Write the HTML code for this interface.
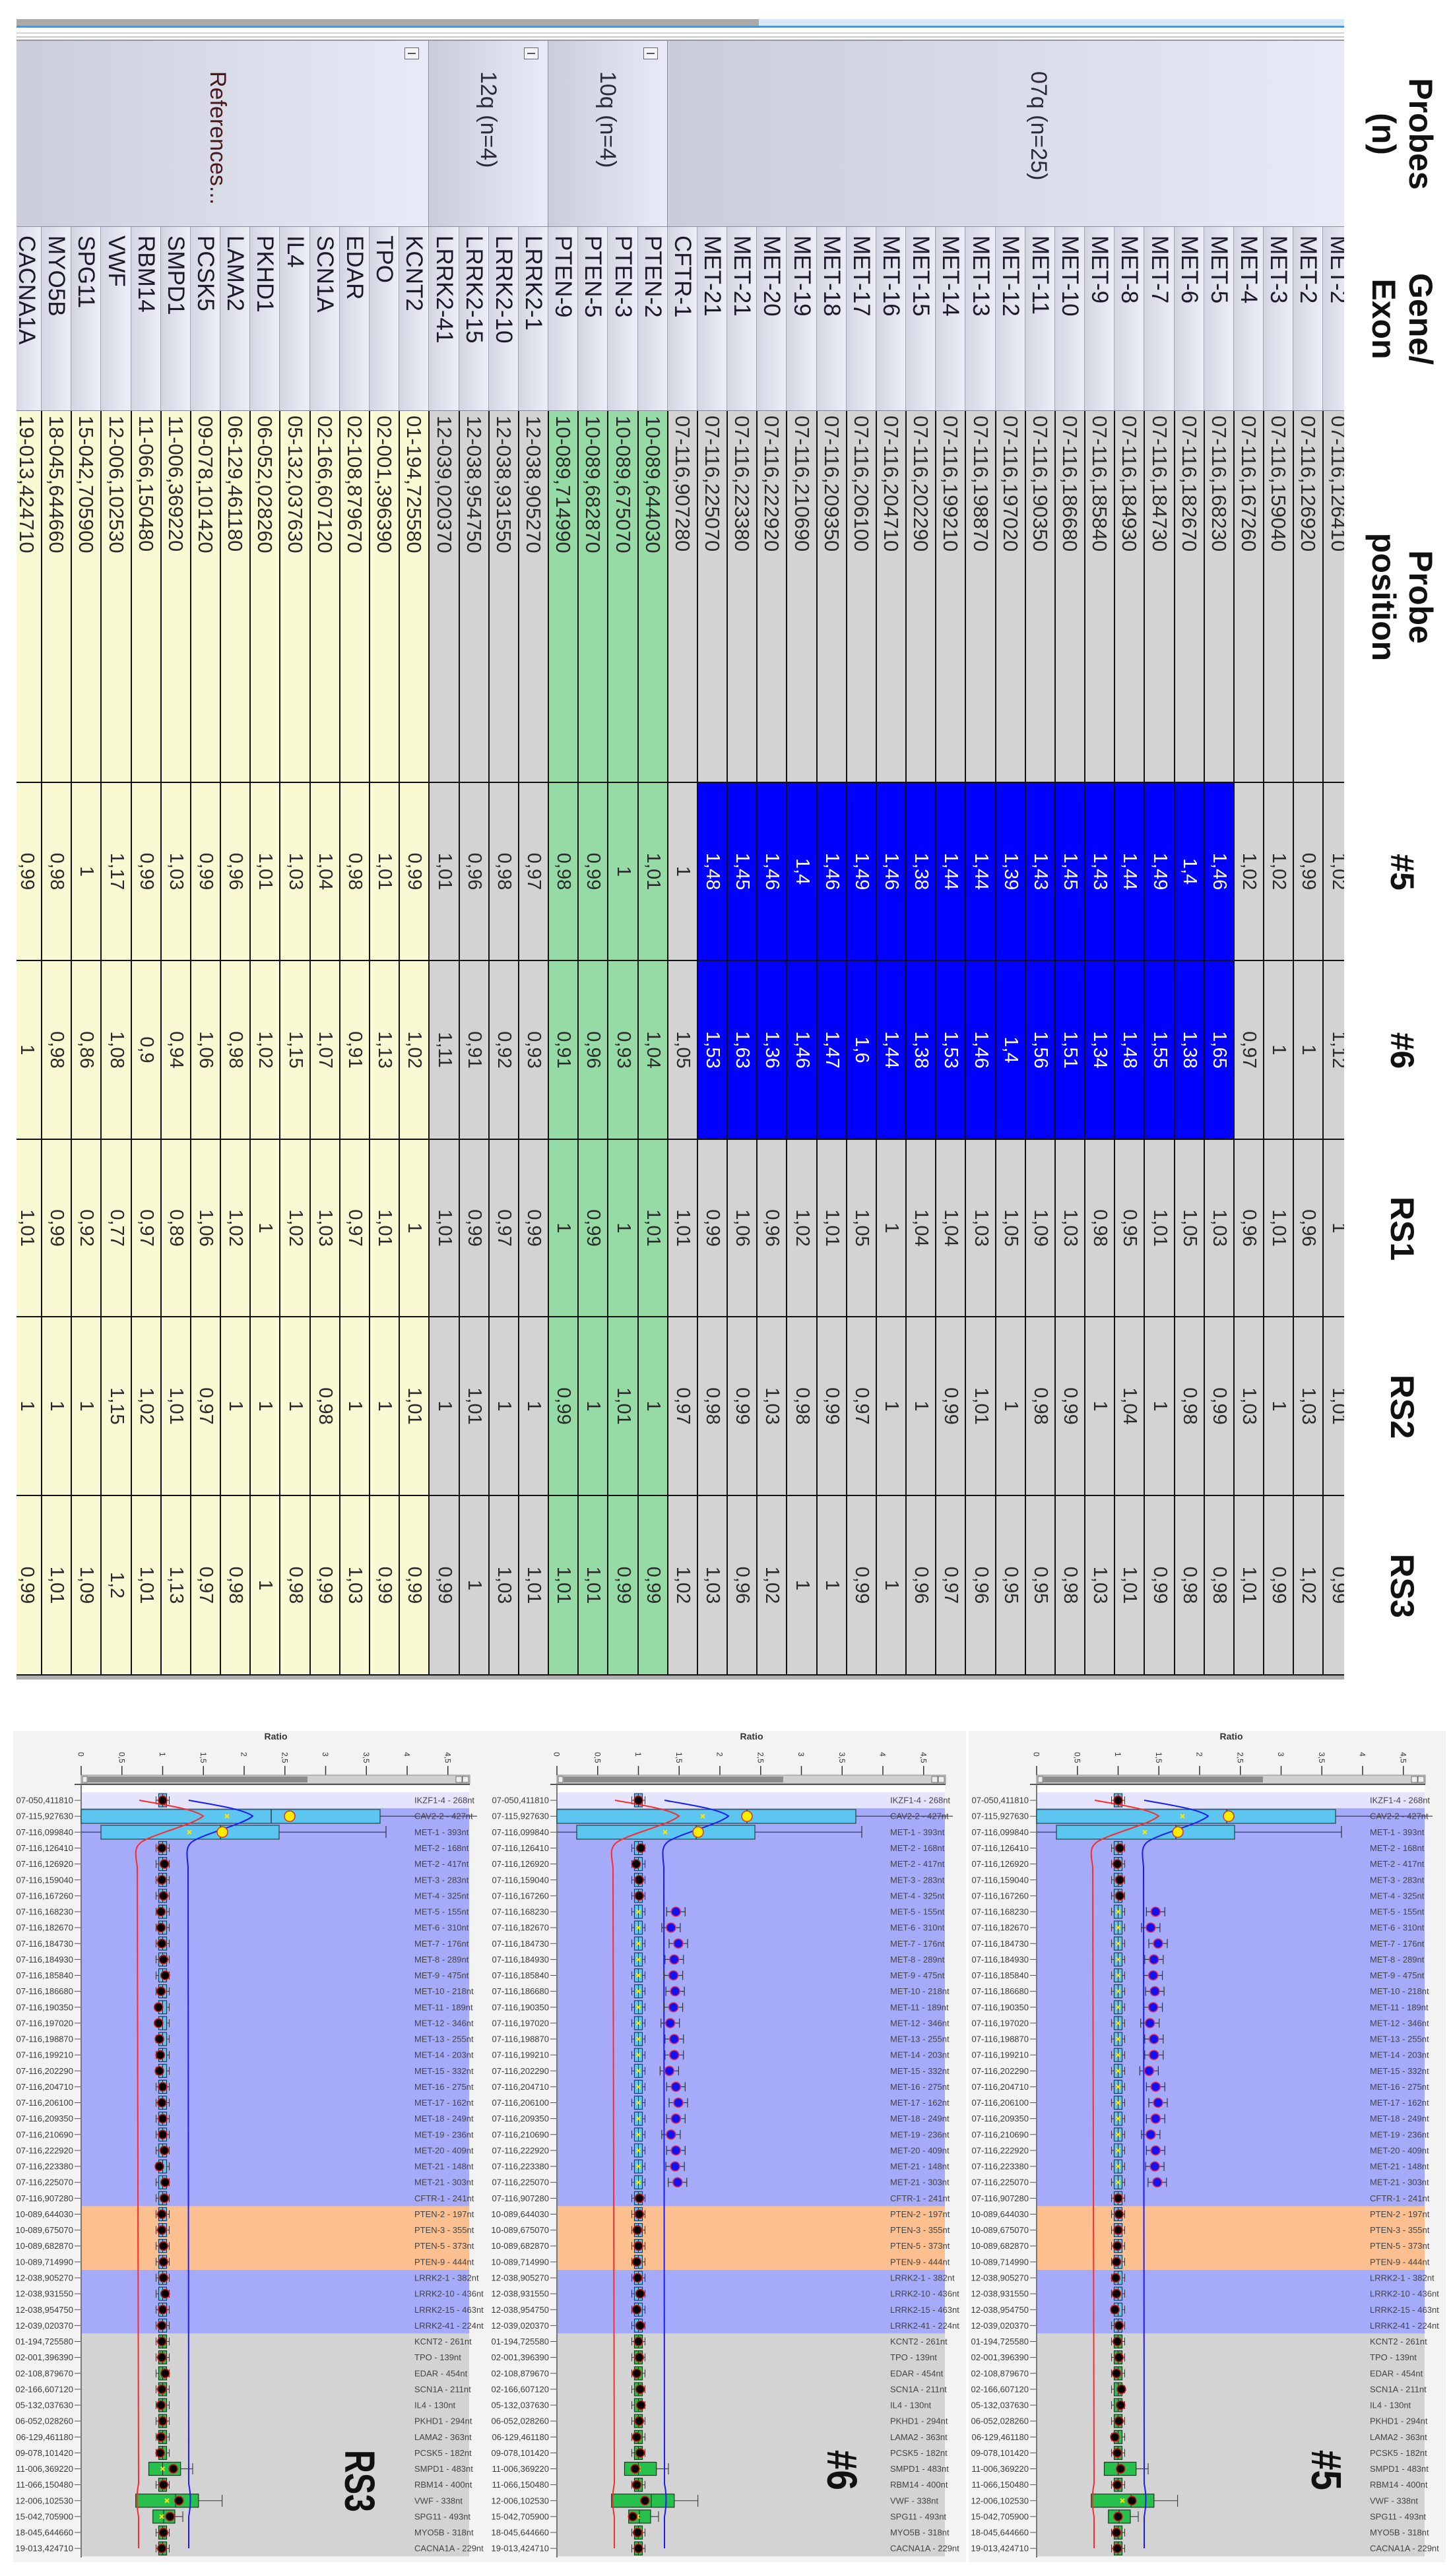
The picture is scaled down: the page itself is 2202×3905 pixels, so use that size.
<!DOCTYPE html>
<html><head><meta charset="utf-8">
<style>
html,body{margin:0;padding:0;background:#fff}
body{width:2202px;height:3905px;position:relative;overflow:hidden;font-family:"Liberation Sans",Arial,sans-serif}
.abs{position:absolute}
#T{position:absolute;left:0;top:0;width:2560px;height:2202px;transform-origin:0 0;transform:translate(2202px,0) rotate(90deg)}
.hl{position:absolute;top:10px;height:134px;display:flex;align-items:center;justify-content:center;text-align:center;font:bold 50px/56px "Liberation Sans",sans-serif;color:#111}
#C{position:absolute;left:0;top:165px;width:2560px;height:2012px;overflow:hidden}
.gp{position:absolute;left:62px;width:282px;box-sizing:border-box;background:linear-gradient(#e8ebf7,#c9ccd9);border-bottom:1px solid #8a8f9e;border-right:1px solid #8a8f9e;display:flex;align-items:center;font-size:34px;color:#2a2a3a;padding-left:46px}
.ic{position:absolute;left:10px;top:14px;width:16px;height:20px;border:1.5px solid #666;background:#f4f5fa}
.ic:after{content:"";position:absolute;left:7px;top:4px;width:2px;height:12px;background:#555}
.rw{position:absolute;left:344px;top:-12.68px;width:2196px}
.r{display:flex;height:45.18px}
.r>i{font-style:normal;box-sizing:border-box;height:45.18px;line-height:43px;border-bottom:2px solid #111;border-right:2px solid #111;text-align:center;font-size:29px;color:#2a2a2a;white-space:nowrap;overflow:hidden}
.r>i:nth-child(1){width:279px;text-align:left;padding-left:13px;font-size:35px;background:linear-gradient(#eceef7,#d3d6e2);border-bottom:1px solid #9da3b3;border-right:1px solid #7f8595;color:#1a1a2a}
.r>i:nth-child(2){width:564px;text-align:left;padding-left:7px;font-size:31px}
.r>i:nth-child(3){width:270px}.r>i:nth-child(4){width:271px}.r>i:nth-child(5){width:269px}.r>i:nth-child(6){width:271px}.r>i:nth-child(7){width:272px}
.a>i,.c>i{background:#d3d3d3}
.b>i{background:#96dba6}
.d>i{background:#f9f9d3}
.r>i.x{background:#0000ff;color:#fff}
.ll{font:13px "Liberation Sans",sans-serif;fill:#3a3a3a;text-anchor:end}
.rl{font:13px "Liberation Sans",sans-serif;fill:#444}
.tk{font:12px "Liberation Sans",sans-serif;fill:#333}
</style></head><body>

<div class="abs" style="left:25px;top:29px;width:1125px;height:10px;background:#a9a9a9"></div>
<div class="abs" style="left:1150px;top:29px;width:887px;height:10px;background:#d7e9f7"></div>
<div class="abs" style="left:25px;top:39px;width:2012px;height:3px;background:#2a9df4"></div>
<div class="abs" style="left:25px;top:49px;width:2012px;height:2px;background:#d2d2d2"></div>
<div class="abs" style="left:25px;top:55px;width:2012px;height:2px;background:#c8c8c8"></div>
<div class="abs" style="left:25px;top:60px;width:2012px;height:2px;background:#999"></div>

<div id="T">
<div class="hl" style="left:62px;width:282px">Probes<br>(n)</div>
<div class="hl" style="left:344px;width:279px">Gene/<br>Exon</div>
<div class="hl" style="left:623px;width:564px">Probe<br>position</div>
<div class="hl" style="left:1187px;width:270px">#5</div>
<div class="hl" style="left:1457px;width:271px">#6</div>
<div class="hl" style="left:1728px;width:269px">RS1</div>
<div class="hl" style="left:1997px;width:271px">RS2</div>
<div class="hl" style="left:2268px;width:272px">RS3</div>

<div id="C">
<div class="gp" style="top:-12.68px;height:1039.14px;padding-bottom:86px">07q (n=25)</div>
<div class="gp" style="top:1026.46px;height:180.72px"><span class="ic"></span>10q (n=4)</div>
<div class="gp" style="top:1207.18px;height:180.72px"><span class="ic"></span>12q (n=4)</div>
<div class="gp" style="top:1387.9px;height:640px;color:#4a1a1a"><span class="ic"></span>References...</div>
<div class="rw">
<div class="r a"><i>MET-2</i><i>07-116,126410</i><i>1,02</i><i>1,12</i><i>1</i><i>1,01</i><i>0,99</i></div>
<div class="r a"><i>MET-2</i><i>07-116,126920</i><i>0,99</i><i>1</i><i>0,96</i><i>1,03</i><i>1,02</i></div>
<div class="r a"><i>MET-3</i><i>07-116,159040</i><i>1,02</i><i>1</i><i>1,01</i><i>1</i><i>0,99</i></div>
<div class="r a"><i>MET-4</i><i>07-116,167260</i><i>1,02</i><i>0,97</i><i>0,96</i><i>1,03</i><i>1,01</i></div>
<div class="r a"><i>MET-5</i><i>07-116,168230</i><i class="x">1,46</i><i class="x">1,65</i><i>1,03</i><i>0,99</i><i>0,98</i></div>
<div class="r a"><i>MET-6</i><i>07-116,182670</i><i class="x">1,4</i><i class="x">1,38</i><i>1,05</i><i>0,98</i><i>0,98</i></div>
<div class="r a"><i>MET-7</i><i>07-116,184730</i><i class="x">1,49</i><i class="x">1,55</i><i>1,01</i><i>1</i><i>0,99</i></div>
<div class="r a"><i>MET-8</i><i>07-116,184930</i><i class="x">1,44</i><i class="x">1,48</i><i>0,95</i><i>1,04</i><i>1,01</i></div>
<div class="r a"><i>MET-9</i><i>07-116,185840</i><i class="x">1,43</i><i class="x">1,34</i><i>0,98</i><i>1</i><i>1,03</i></div>
<div class="r a"><i>MET-10</i><i>07-116,186680</i><i class="x">1,45</i><i class="x">1,51</i><i>1,03</i><i>0,99</i><i>0,98</i></div>
<div class="r a"><i>MET-11</i><i>07-116,190350</i><i class="x">1,43</i><i class="x">1,56</i><i>1,09</i><i>0,98</i><i>0,95</i></div>
<div class="r a"><i>MET-12</i><i>07-116,197020</i><i class="x">1,39</i><i class="x">1,4</i><i>1,05</i><i>1</i><i>0,95</i></div>
<div class="r a"><i>MET-13</i><i>07-116,198870</i><i class="x">1,44</i><i class="x">1,46</i><i>1,03</i><i>1,01</i><i>0,96</i></div>
<div class="r a"><i>MET-14</i><i>07-116,199210</i><i class="x">1,44</i><i class="x">1,53</i><i>1,04</i><i>0,99</i><i>0,97</i></div>
<div class="r a"><i>MET-15</i><i>07-116,202290</i><i class="x">1,38</i><i class="x">1,38</i><i>1,04</i><i>1</i><i>0,96</i></div>
<div class="r a"><i>MET-16</i><i>07-116,204710</i><i class="x">1,46</i><i class="x">1,44</i><i>1</i><i>1</i><i>1</i></div>
<div class="r a"><i>MET-17</i><i>07-116,206100</i><i class="x">1,49</i><i class="x">1,6</i><i>1,05</i><i>0,97</i><i>0,99</i></div>
<div class="r a"><i>MET-18</i><i>07-116,209350</i><i class="x">1,46</i><i class="x">1,47</i><i>1,01</i><i>0,99</i><i>1</i></div>
<div class="r a"><i>MET-19</i><i>07-116,210690</i><i class="x">1,4</i><i class="x">1,46</i><i>1,02</i><i>0,98</i><i>1</i></div>
<div class="r a"><i>MET-20</i><i>07-116,222920</i><i class="x">1,46</i><i class="x">1,36</i><i>0,96</i><i>1,03</i><i>1,02</i></div>
<div class="r a"><i>MET-21</i><i>07-116,223380</i><i class="x">1,45</i><i class="x">1,63</i><i>1,06</i><i>0,99</i><i>0,96</i></div>
<div class="r a"><i>MET-21</i><i>07-116,225070</i><i class="x">1,48</i><i class="x">1,53</i><i>0,99</i><i>0,98</i><i>1,03</i></div>
<div class="r a"><i>CFTR-1</i><i>07-116,907280</i><i>1</i><i>1,05</i><i>1,01</i><i>0,97</i><i>1,02</i></div>
<div class="r b"><i>PTEN-2</i><i>10-089,644030</i><i>1,01</i><i>1,04</i><i>1,01</i><i>1</i><i>0,99</i></div>
<div class="r b"><i>PTEN-3</i><i>10-089,675070</i><i>1</i><i>0,93</i><i>1</i><i>1,01</i><i>0,99</i></div>
<div class="r b"><i>PTEN-5</i><i>10-089,682870</i><i>0,99</i><i>0,96</i><i>0,99</i><i>1</i><i>1,01</i></div>
<div class="r b"><i>PTEN-9</i><i>10-089,714990</i><i>0,98</i><i>0,91</i><i>1</i><i>0,99</i><i>1,01</i></div>
<div class="r c"><i>LRRK2-1</i><i>12-038,905270</i><i>0,97</i><i>0,93</i><i>0,99</i><i>1</i><i>1,01</i></div>
<div class="r c"><i>LRRK2-10</i><i>12-038,931550</i><i>0,98</i><i>0,92</i><i>0,97</i><i>1</i><i>1,03</i></div>
<div class="r c"><i>LRRK2-15</i><i>12-038,954750</i><i>0,96</i><i>0,91</i><i>0,99</i><i>1,01</i><i>1</i></div>
<div class="r c"><i>LRRK2-41</i><i>12-039,020370</i><i>1,01</i><i>1,11</i><i>1,01</i><i>1</i><i>0,99</i></div>
<div class="r d"><i>KCNT2</i><i>01-194,725580</i><i>0,99</i><i>1,02</i><i>1</i><i>1,01</i><i>0,99</i></div>
<div class="r d"><i>TPO</i><i>02-001,396390</i><i>1,01</i><i>1,13</i><i>1,01</i><i>1</i><i>0,99</i></div>
<div class="r d"><i>EDAR</i><i>02-108,879670</i><i>0,98</i><i>0,91</i><i>0,97</i><i>1</i><i>1,03</i></div>
<div class="r d"><i>SCN1A</i><i>02-166,607120</i><i>1,04</i><i>1,07</i><i>1,03</i><i>0,98</i><i>0,99</i></div>
<div class="r d"><i>IL4</i><i>05-132,037630</i><i>1,03</i><i>1,15</i><i>1,02</i><i>1</i><i>0,98</i></div>
<div class="r d"><i>PKHD1</i><i>06-052,028260</i><i>1,01</i><i>1,02</i><i>1</i><i>1</i><i>1</i></div>
<div class="r d"><i>LAMA2</i><i>06-129,461180</i><i>0,96</i><i>0,98</i><i>1,02</i><i>1</i><i>0,98</i></div>
<div class="r d"><i>PCSK5</i><i>09-078,101420</i><i>0,99</i><i>1,06</i><i>1,06</i><i>0,97</i><i>0,97</i></div>
<div class="r d"><i>SMPD1</i><i>11-006,369220</i><i>1,03</i><i>0,94</i><i>0,89</i><i>1,01</i><i>1,13</i></div>
<div class="r d"><i>RBM14</i><i>11-066,150480</i><i>0,99</i><i>0,9</i><i>0,97</i><i>1,02</i><i>1,01</i></div>
<div class="r d"><i>VWF</i><i>12-006,102530</i><i>1,17</i><i>1,08</i><i>0,77</i><i>1,15</i><i>1,2</i></div>
<div class="r d"><i>SPG11</i><i>15-042,705900</i><i>1</i><i>0,86</i><i>0,92</i><i>1</i><i>1,09</i></div>
<div class="r d"><i>MYO5B</i><i>18-045,644660</i><i>0,98</i><i>0,98</i><i>0,99</i><i>1</i><i>1,01</i></div>
<div class="r d"><i>CACNA1A</i><i>19-013,424710</i><i>0,99</i><i>1</i><i>1,01</i><i>1</i><i>0,99</i></div>
</div>
</div>
<div class="abs" style="left:2540px;top:165px;width:6px;height:2012px;background:#b0b0b0"></div>
</div>

<svg class="abs" style="left:0;top:2600px" width="2202" height="1305" viewBox="0 0 2202 1305" xmlns="http://www.w3.org/2000/svg">
<defs>
<g id="bx"><path d="M-10,0H10M-10,-6V6M10,-6V6" stroke="#333" stroke-width="1"/><rect x="-6" y="-10" width="12" height="20" fill="#5cc5f0" stroke="#1d3a5a" stroke-width="1.2"/><path d="M0,-10V10" stroke="#223" stroke-width="1"/></g>
<g id="gx"><path d="M-10,0H10M-10,-6V6M10,-6V6" stroke="#333" stroke-width="1"/><rect x="-6" y="-10" width="12" height="20" fill="#27c04c" stroke="#1a3a22" stroke-width="1.2"/><path d="M0,-10V10" stroke="#223" stroke-width="1"/></g>
<circle id="dk" r="6.5" fill="#000" stroke="#d81010" stroke-width="1.6"/>
<g id="db"><path d="M-14,0H14M-14,-7V7M14,-7V7" stroke="#333" stroke-width="1.2"/><circle r="7" fill="#1212f0" stroke="#e0305a" stroke-width="1.6"/></g>
<path id="yx" d="M-3,-3L3,3M-3,3L3,-3" stroke="#ffe600" stroke-width="2"/>
<circle id="yc" r="8" fill="#ffee00" stroke="#e03020" stroke-width="1.5"/>
<g id="base">
<rect x="-103" y="24" width="723" height="1260" fill="#f3f3f3"/>
<path d="M0,77V91M61.75,77V91M123.5,77V91M185.25,77V91M247,77V91M308.75,77V91M370.5,77V91M432.25,77V91M494,77V91M555.75,77V91" stroke="#333" stroke-width="1.5"/>
<rect x="0" y="91" width="589" height="13" fill="#d0d0d0" stroke="#8a8a8a"/>
<rect x="10" y="93" width="333" height="9" fill="#8c8c8c"/>
<rect x="2" y="93" width="7" height="9" fill="#eee" stroke="#555" stroke-width=".8"/>
<rect x="568" y="93" width="9" height="9" fill="#eee" stroke="#555" stroke-width=".8"/>
<rect x="578" y="93" width="9" height="9" fill="#eee" stroke="#555" stroke-width=".8"/>
<line x1="-10" y1="105" x2="589" y2="105" stroke="#555" stroke-width="2"/>
<rect x="0" y="106" width="588" height="11" fill="#fff"/>
<rect x="0" y="117" width="588" height="24.13" fill="#e4e4fc"/>
<rect x="0" y="141.1" width="588" height="603.3" fill="#a6abf9"/>
<rect x="0" y="744.4" width="588" height="96.5" fill="#fcbf8f"/>
<rect x="0" y="840.9" width="588" height="96.5" fill="#a6abf9"/>
<rect x="0" y="937.4" width="588" height="337.8" fill="#d3d3d3"/>
<line x1="0" y1="105" x2="0" y2="1277" stroke="#777" stroke-width="2"/>
<path d="M-10,129.07h9m-9,24.13h9m-9,24.13h9m-9,24.13h9m-9,24.13h9m-9,24.13h9m-9,24.13h9m-9,24.13h9m-9,24.13h9m-9,24.13h9m-9,24.13h9m-9,24.13h9m-9,24.13h9m-9,24.13h9m-9,24.13h9m-9,24.13h9m-9,24.13h9m-9,24.13h9m-9,24.13h9m-9,24.13h9m-9,24.13h9m-9,24.13h9m-9,24.13h9m-9,24.13h9m-9,24.13h9m-9,24.13h9m-9,24.13h9m-9,24.13h9m-9,24.13h9m-9,24.13h9m-9,24.13h9m-9,24.13h9m-9,24.13h9m-9,24.13h9m-9,24.13h9m-9,24.13h9m-9,24.13h9m-9,24.13h9m-9,24.13h9m-9,24.13h9m-9,24.13h9m-9,24.13h9m-9,24.13h9m-9,24.13h9m-9,24.13h9m-9,24.13h9m-9,24.13h9m-9,24.13h9" stroke="#555" stroke-width="1"/>
<use href="#bx" x="123.5" y="129.1"/>
<use href="#bx" x="123.5" y="201.5"/><use href="#bx" x="123.5" y="225.6"/><use href="#bx" x="123.5" y="249.7"/><use href="#bx" x="123.5" y="273.9"/>
<use href="#bx" x="123.5" y="298.0"/><use href="#bx" x="123.5" y="322.1"/><use href="#bx" x="123.5" y="346.2"/><use href="#bx" x="123.5" y="370.4"/>
<use href="#bx" x="123.5" y="394.5"/><use href="#bx" x="123.5" y="418.6"/><use href="#bx" x="123.5" y="442.8"/><use href="#bx" x="123.5" y="466.9"/>
<use href="#bx" x="123.5" y="491.0"/><use href="#bx" x="123.5" y="515.2"/><use href="#bx" x="123.5" y="539.3"/><use href="#bx" x="123.5" y="563.4"/>
<use href="#bx" x="123.5" y="587.5"/><use href="#bx" x="123.5" y="611.7"/><use href="#bx" x="123.5" y="635.8"/><use href="#bx" x="123.5" y="659.9"/>
<use href="#bx" x="123.5" y="684.1"/><use href="#bx" x="123.5" y="708.2"/><use href="#bx" x="123.5" y="732.3"/><use href="#bx" x="123.5" y="756.5"/>
<use href="#bx" x="123.5" y="780.6"/><use href="#bx" x="123.5" y="804.7"/><use href="#bx" x="123.5" y="828.8"/><use href="#bx" x="123.5" y="853.0"/>
<use href="#bx" x="123.5" y="877.1"/><use href="#bx" x="123.5" y="901.2"/><use href="#bx" x="123.5" y="925.4"/>
<use href="#gx" x="123.5" y="949.5"/><use href="#gx" x="123.5" y="973.6"/><use href="#gx" x="123.5" y="997.8"/><use href="#gx" x="123.5" y="1021.9"/>
<use href="#gx" x="123.5" y="1046.0"/><use href="#gx" x="123.5" y="1070.1"/><use href="#gx" x="123.5" y="1094.3"/><use href="#gx" x="123.5" y="1118.4"/>
<use href="#gx" x="123.5" y="1166.7"/><use href="#gx" x="123.5" y="1239.1"/><use href="#gx" x="123.5" y="1263.2"/>
<!-- CAV2 -->
<path d="M0,153.2H600" stroke="#333" stroke-width="1.2"/>
<rect x="0" y="143" width="453" height="21" fill="#5cc5f0" stroke="#244" stroke-width="1.2"/>
<path d="M288,143V164" stroke="#222" stroke-width="1.2"/>
<use href="#yx" x="221" y="153.2"/>
<!-- MET-1 -->
<path d="M0,177.3H462M462,168V186" stroke="#333" stroke-width="1.2"/>
<rect x="30" y="167" width="270" height="21" fill="#5cc5f0" stroke="#244" stroke-width="1.2"/>
<path d="M211,167V188" stroke="#222" stroke-width="1.2"/>
<use href="#yx" x="164" y="177.3"/>
<!-- SMPD1 -->
<path d="M102.5,1142.5H169M169,1134V1151" stroke="#444" stroke-width="1.2"/>
<rect x="102.5" y="1132.5" width="48.2" height="20" fill="#27c04c" stroke="#1a3a22" stroke-width="1.2"/>
<path d="M123.5,1132.5V1152.5" stroke="#222"/><use href="#yx" x="123.5" y="1142.5"/>
<!-- VWF -->
<path d="M82.7,1190.8H213.6M213.6,1182V1200" stroke="#444" stroke-width="1.2"/>
<rect x="82.7" y="1180.8" width="95.1" height="20" fill="#27c04c" stroke="#1a3a22" stroke-width="1.2"/>
<path d="M143,1180.8V1200.8" stroke="#222"/><use href="#yx" x="130" y="1190.8"/>
<!-- SPG11 -->
<path d="M108.7,1214.9H154M154,1207V1223" stroke="#444" stroke-width="1.2"/>
<rect x="108.7" y="1204.9" width="33.3" height="20" fill="#27c04c" stroke="#1a3a22" stroke-width="1.2"/>
<path d="M125,1204.9V1224.9" stroke="#222"/><use href="#yx" x="122" y="1214.9"/>
<!-- curves -->
<path d="M88,129 C125,136 170,142 185,153 C170,166 110,180 92,192 C80,200 82,210 85,230 L87,1165 Q82,1190 87,1215 L87,1263" fill="none" stroke="#ff2b2b" stroke-width="2"/>
<path d="M163,129 C200,136 245,142 260,153 C245,166 185,180 168,192 C158,200 160,210 162,230 L163,1165 Q168,1190 163,1215 L163,1263" fill="none" stroke="#1a1aff" stroke-width="2"/>
<use href="#yc" x="214" y="177.3"/>
</g>
</defs>

<!-- PANEL 1 : RS3 -->
<g transform="translate(123,0)">
<use href="#base"/>
<use href="#yc" x="316" y="153.2"/>
<text x="295" y="37" text-anchor="middle" font-weight="bold" font-size="14" font-family="Liberation Sans" fill="#333">Ratio</text>
<g class="tk"><text transform="translate(-4.5,56) rotate(90)">0</text><text transform="translate(57.25,56) rotate(90)">0,5</text><text transform="translate(119,56) rotate(90)">1</text><text transform="translate(180.75,56) rotate(90)">1,5</text><text transform="translate(242.5,56) rotate(90)">2</text><text transform="translate(304.25,56) rotate(90)">2,5</text><text transform="translate(366,56) rotate(90)">3</text><text transform="translate(427.75,56) rotate(90)">3,5</text><text transform="translate(489.5,56) rotate(90)">4</text><text transform="translate(551.25,56) rotate(90)">4,5</text></g>
<use href="#dk" x="123.5" y="129.1"/><use href="#dk" x="122.3" y="201.5"/><use href="#dk" x="126" y="225.6"/><use href="#dk" x="122.3" y="249.7"/><use href="#dk" x="124.7" y="273.9"/>
<use href="#dk" x="121" y="298.0"/><use href="#dk" x="121" y="322.1"/><use href="#dk" x="122.3" y="346.2"/><use href="#dk" x="124.7" y="370.4"/><use href="#dk" x="127.2" y="394.5"/><use href="#dk" x="121" y="418.6"/><use href="#dk" x="117.3" y="442.8"/><use href="#dk" x="117.3" y="466.9"/><use href="#dk" x="118.6" y="491.0"/><use href="#dk" x="119.8" y="515.2"/><use href="#dk" x="118.6" y="539.3"/><use href="#dk" x="123.5" y="563.4"/><use href="#dk" x="122.3" y="587.5"/><use href="#dk" x="123.5" y="611.7"/><use href="#dk" x="123.5" y="635.8"/><use href="#dk" x="126" y="659.9"/><use href="#dk" x="118.6" y="684.1"/><use href="#dk" x="127.2" y="708.2"/>
<use href="#dk" x="126" y="732.3"/><use href="#dk" x="122.3" y="756.5"/><use href="#dk" x="122.3" y="780.6"/><use href="#dk" x="124.7" y="804.7"/><use href="#dk" x="124.7" y="828.8"/><use href="#dk" x="124.7" y="853.0"/><use href="#dk" x="127.2" y="877.1"/><use href="#dk" x="123.5" y="901.2"/><use href="#dk" x="122.3" y="925.4"/>
<use href="#dk" x="122.3" y="949.5"/><use href="#dk" x="122.3" y="973.6"/><use href="#dk" x="127.2" y="997.8"/><use href="#dk" x="122.3" y="1021.9"/><use href="#dk" x="121" y="1046.0"/><use href="#dk" x="123.5" y="1070.1"/><use href="#dk" x="121" y="1094.3"/><use href="#dk" x="119.8" y="1118.4"/><use href="#dk" x="139.6" y="1142.5"/><use href="#dk" x="124.7" y="1166.7"/><use href="#dk" x="148.2" y="1190.8"/><use href="#dk" x="134.6" y="1214.9"/><use href="#dk" x="124.7" y="1239.1"/><use href="#dk" x="122.3" y="1263.2"/>
<text class="ll"><tspan x="-12" y="133.6">07-050,411810</tspan><tspan x="-12" dy="24.13">07-115,927630</tspan><tspan x="-12" dy="24.13">07-116,099840</tspan><tspan x="-12" dy="24.13">07-116,126410</tspan><tspan x="-12" dy="24.13">07-116,126920</tspan><tspan x="-12" dy="24.13">07-116,159040</tspan><tspan x="-12" dy="24.13">07-116,167260</tspan><tspan x="-12" dy="24.13">07-116,168230</tspan><tspan x="-12" dy="24.13">07-116,182670</tspan><tspan x="-12" dy="24.13">07-116,184730</tspan><tspan x="-12" dy="24.13">07-116,184930</tspan><tspan x="-12" dy="24.13">07-116,185840</tspan><tspan x="-12" dy="24.13">07-116,186680</tspan><tspan x="-12" dy="24.13">07-116,190350</tspan><tspan x="-12" dy="24.13">07-116,197020</tspan><tspan x="-12" dy="24.13">07-116,198870</tspan><tspan x="-12" dy="24.13">07-116,199210</tspan><tspan x="-12" dy="24.13">07-116,202290</tspan><tspan x="-12" dy="24.13">07-116,204710</tspan><tspan x="-12" dy="24.13">07-116,206100</tspan><tspan x="-12" dy="24.13">07-116,209350</tspan><tspan x="-12" dy="24.13">07-116,210690</tspan><tspan x="-12" dy="24.13">07-116,222920</tspan><tspan x="-12" dy="24.13">07-116,223380</tspan><tspan x="-12" dy="24.13">07-116,225070</tspan><tspan x="-12" dy="24.13">07-116,907280</tspan><tspan x="-12" dy="24.13">10-089,644030</tspan><tspan x="-12" dy="24.13">10-089,675070</tspan><tspan x="-12" dy="24.13">10-089,682870</tspan><tspan x="-12" dy="24.13">10-089,714990</tspan><tspan x="-12" dy="24.13">12-038,905270</tspan><tspan x="-12" dy="24.13">12-038,931550</tspan><tspan x="-12" dy="24.13">12-038,954750</tspan><tspan x="-12" dy="24.13">12-039,020370</tspan><tspan x="-12" dy="24.13">01-194,725580</tspan><tspan x="-12" dy="24.13">02-001,396390</tspan><tspan x="-12" dy="24.13">02-108,879670</tspan><tspan x="-12" dy="24.13">02-166,607120</tspan><tspan x="-12" dy="24.13">05-132,037630</tspan><tspan x="-12" dy="24.13">06-052,028260</tspan><tspan x="-12" dy="24.13">06-129,461180</tspan><tspan x="-12" dy="24.13">09-078,101420</tspan><tspan x="-12" dy="24.13">11-006,369220</tspan><tspan x="-12" dy="24.13">11-066,150480</tspan><tspan x="-12" dy="24.13">12-006,102530</tspan><tspan x="-12" dy="24.13">15-042,705900</tspan><tspan x="-12" dy="24.13">18-045,644660</tspan><tspan x="-12" dy="24.13">19-013,424710</tspan></text>
<text class="rl"><tspan x="505" y="133.6">IKZF1-4 - 268nt</tspan><tspan x="505" dy="24.13">CAV2-2 - 427nt</tspan><tspan x="505" dy="24.13">MET-1 - 393nt</tspan><tspan x="505" dy="24.13">MET-2 - 168nt</tspan><tspan x="505" dy="24.13">MET-2 - 417nt</tspan><tspan x="505" dy="24.13">MET-3 - 283nt</tspan><tspan x="505" dy="24.13">MET-4 - 325nt</tspan><tspan x="505" dy="24.13">MET-5 - 155nt</tspan><tspan x="505" dy="24.13">MET-6 - 310nt</tspan><tspan x="505" dy="24.13">MET-7 - 176nt</tspan><tspan x="505" dy="24.13">MET-8 - 289nt</tspan><tspan x="505" dy="24.13">MET-9 - 475nt</tspan><tspan x="505" dy="24.13">MET-10 - 218nt</tspan><tspan x="505" dy="24.13">MET-11 - 189nt</tspan><tspan x="505" dy="24.13">MET-12 - 346nt</tspan><tspan x="505" dy="24.13">MET-13 - 255nt</tspan><tspan x="505" dy="24.13">MET-14 - 203nt</tspan><tspan x="505" dy="24.13">MET-15 - 332nt</tspan><tspan x="505" dy="24.13">MET-16 - 275nt</tspan><tspan x="505" dy="24.13">MET-17 - 162nt</tspan><tspan x="505" dy="24.13">MET-18 - 249nt</tspan><tspan x="505" dy="24.13">MET-19 - 236nt</tspan><tspan x="505" dy="24.13">MET-20 - 409nt</tspan><tspan x="505" dy="24.13">MET-21 - 148nt</tspan><tspan x="505" dy="24.13">MET-21 - 303nt</tspan><tspan x="505" dy="24.13">CFTR-1 - 241nt</tspan><tspan x="505" dy="24.13">PTEN-2 - 197nt</tspan><tspan x="505" dy="24.13">PTEN-3 - 355nt</tspan><tspan x="505" dy="24.13">PTEN-5 - 373nt</tspan><tspan x="505" dy="24.13">PTEN-9 - 444nt</tspan><tspan x="505" dy="24.13">LRRK2-1 - 382nt</tspan><tspan x="505" dy="24.13">LRRK2-10 - 436nt</tspan><tspan x="505" dy="24.13">LRRK2-15 - 463nt</tspan><tspan x="505" dy="24.13">LRRK2-41 - 224nt</tspan><tspan x="505" dy="24.13">KCNT2 - 261nt</tspan><tspan x="505" dy="24.13">TPO - 139nt</tspan><tspan x="505" dy="24.13">EDAR - 454nt</tspan><tspan x="505" dy="24.13">SCN1A - 211nt</tspan><tspan x="505" dy="24.13">IL4 - 130nt</tspan><tspan x="505" dy="24.13">PKHD1 - 294nt</tspan><tspan x="505" dy="24.13">LAMA2 - 363nt</tspan><tspan x="505" dy="24.13">PCSK5 - 182nt</tspan><tspan x="505" dy="24.13">SMPD1 - 483nt</tspan><tspan x="505" dy="24.13">RBM14 - 400nt</tspan><tspan x="505" dy="24.13">VWF - 338nt</tspan><tspan x="505" dy="24.13">SPG11 - 493nt</tspan><tspan x="505" dy="24.13">MYO5B - 318nt</tspan><tspan x="505" dy="24.13">CACNA1A - 229nt</tspan></text>
<text transform="translate(400,1114) rotate(90)" font-size="64" font-weight="bold" font-family="Liberation Sans" textLength="94" lengthAdjust="spacingAndGlyphs" fill="#111">RS3</text>
</g>

<!-- PANEL 2 : #6 -->
<g transform="translate(844,0)">
<use href="#base"/>
<use href="#yc" x="288" y="153.2"/>
<text x="295" y="37" text-anchor="middle" font-weight="bold" font-size="14" font-family="Liberation Sans" fill="#333">Ratio</text>
<g class="tk"><text transform="translate(-4.5,56) rotate(90)">0</text><text transform="translate(57.25,56) rotate(90)">0,5</text><text transform="translate(119,56) rotate(90)">1</text><text transform="translate(180.75,56) rotate(90)">1,5</text><text transform="translate(242.5,56) rotate(90)">2</text><text transform="translate(304.25,56) rotate(90)">2,5</text><text transform="translate(366,56) rotate(90)">3</text><text transform="translate(427.75,56) rotate(90)">3,5</text><text transform="translate(489.5,56) rotate(90)">4</text><text transform="translate(551.25,56) rotate(90)">4,5</text></g>
<use href="#dk" x="123.5" y="129.1"/><use href="#dk" x="127.2" y="201.5"/><use href="#dk" x="120" y="225.6"/><use href="#dk" x="124.7" y="249.7"/><use href="#dk" x="124.7" y="273.9"/>
<use href="#yx" x="123.5" y="298.0"/><use href="#yx" x="123.5" y="322.1"/><use href="#yx" x="123.5" y="346.2"/><use href="#yx" x="123.5" y="370.4"/><use href="#yx" x="123.5" y="394.5"/><use href="#yx" x="123.5" y="418.6"/><use href="#yx" x="123.5" y="442.8"/><use href="#yx" x="123.5" y="466.9"/><use href="#yx" x="123.5" y="491.0"/><use href="#yx" x="123.5" y="515.2"/><use href="#yx" x="123.5" y="539.3"/><use href="#yx" x="123.5" y="563.4"/><use href="#yx" x="123.5" y="587.5"/><use href="#yx" x="123.5" y="611.7"/><use href="#yx" x="123.5" y="635.8"/><use href="#yx" x="123.5" y="659.9"/><use href="#yx" x="123.5" y="684.1"/><use href="#yx" x="123.5" y="708.2"/>
<use href="#db" x="180.3" y="298.0"/><use href="#db" x="172.9" y="322.1"/><use href="#db" x="184" y="346.2"/><use href="#db" x="177.8" y="370.4"/><use href="#db" x="176.6" y="394.5"/><use href="#db" x="179.1" y="418.6"/><use href="#db" x="176.6" y="442.8"/><use href="#db" x="171.7" y="466.9"/><use href="#db" x="177.8" y="491.0"/><use href="#db" x="177.8" y="515.2"/><use href="#db" x="170.4" y="539.3"/><use href="#db" x="180.3" y="563.4"/><use href="#db" x="184" y="587.5"/><use href="#db" x="180.3" y="611.7"/><use href="#db" x="172.9" y="635.8"/><use href="#db" x="180.3" y="659.9"/><use href="#db" x="179.1" y="684.1"/><use href="#db" x="182.8" y="708.2"/>
<use href="#dk" x="125" y="732.3"/><use href="#dk" x="124.7" y="756.5"/><use href="#dk" x="122" y="780.6"/><use href="#dk" x="123.5" y="804.7"/><use href="#dk" x="121" y="828.8"/><use href="#dk" x="122.3" y="853.0"/><use href="#dk" x="126" y="877.1"/><use href="#dk" x="121" y="901.2"/><use href="#dk" x="126" y="925.4"/>
<use href="#dk" x="123.5" y="949.5"/><use href="#dk" x="124.7" y="973.6"/><use href="#dk" x="121" y="997.8"/><use href="#dk" x="126" y="1021.9"/><use href="#dk" x="127.2" y="1046.0"/><use href="#dk" x="124.7" y="1070.1"/><use href="#dk" x="121" y="1094.3"/><use href="#dk" x="126" y="1118.4"/><use href="#dk" x="118.6" y="1142.5"/><use href="#dk" x="121" y="1166.7"/><use href="#dk" x="133.4" y="1190.8"/><use href="#dk" x="114.9" y="1214.9"/><use href="#dk" x="122.3" y="1239.1"/><use href="#dk" x="123.5" y="1263.2"/>
<text class="ll"><tspan x="-12" y="133.6">07-050,411810</tspan><tspan x="-12" dy="24.13">07-115,927630</tspan><tspan x="-12" dy="24.13">07-116,099840</tspan><tspan x="-12" dy="24.13">07-116,126410</tspan><tspan x="-12" dy="24.13">07-116,126920</tspan><tspan x="-12" dy="24.13">07-116,159040</tspan><tspan x="-12" dy="24.13">07-116,167260</tspan><tspan x="-12" dy="24.13">07-116,168230</tspan><tspan x="-12" dy="24.13">07-116,182670</tspan><tspan x="-12" dy="24.13">07-116,184730</tspan><tspan x="-12" dy="24.13">07-116,184930</tspan><tspan x="-12" dy="24.13">07-116,185840</tspan><tspan x="-12" dy="24.13">07-116,186680</tspan><tspan x="-12" dy="24.13">07-116,190350</tspan><tspan x="-12" dy="24.13">07-116,197020</tspan><tspan x="-12" dy="24.13">07-116,198870</tspan><tspan x="-12" dy="24.13">07-116,199210</tspan><tspan x="-12" dy="24.13">07-116,202290</tspan><tspan x="-12" dy="24.13">07-116,204710</tspan><tspan x="-12" dy="24.13">07-116,206100</tspan><tspan x="-12" dy="24.13">07-116,209350</tspan><tspan x="-12" dy="24.13">07-116,210690</tspan><tspan x="-12" dy="24.13">07-116,222920</tspan><tspan x="-12" dy="24.13">07-116,223380</tspan><tspan x="-12" dy="24.13">07-116,225070</tspan><tspan x="-12" dy="24.13">07-116,907280</tspan><tspan x="-12" dy="24.13">10-089,644030</tspan><tspan x="-12" dy="24.13">10-089,675070</tspan><tspan x="-12" dy="24.13">10-089,682870</tspan><tspan x="-12" dy="24.13">10-089,714990</tspan><tspan x="-12" dy="24.13">12-038,905270</tspan><tspan x="-12" dy="24.13">12-038,931550</tspan><tspan x="-12" dy="24.13">12-038,954750</tspan><tspan x="-12" dy="24.13">12-039,020370</tspan><tspan x="-12" dy="24.13">01-194,725580</tspan><tspan x="-12" dy="24.13">02-001,396390</tspan><tspan x="-12" dy="24.13">02-108,879670</tspan><tspan x="-12" dy="24.13">02-166,607120</tspan><tspan x="-12" dy="24.13">05-132,037630</tspan><tspan x="-12" dy="24.13">06-052,028260</tspan><tspan x="-12" dy="24.13">06-129,461180</tspan><tspan x="-12" dy="24.13">09-078,101420</tspan><tspan x="-12" dy="24.13">11-006,369220</tspan><tspan x="-12" dy="24.13">11-066,150480</tspan><tspan x="-12" dy="24.13">12-006,102530</tspan><tspan x="-12" dy="24.13">15-042,705900</tspan><tspan x="-12" dy="24.13">18-045,644660</tspan><tspan x="-12" dy="24.13">19-013,424710</tspan></text>
<text class="rl"><tspan x="505" y="133.6">IKZF1-4 - 268nt</tspan><tspan x="505" dy="24.13">CAV2-2 - 427nt</tspan><tspan x="505" dy="24.13">MET-1 - 393nt</tspan><tspan x="505" dy="24.13">MET-2 - 168nt</tspan><tspan x="505" dy="24.13">MET-2 - 417nt</tspan><tspan x="505" dy="24.13">MET-3 - 283nt</tspan><tspan x="505" dy="24.13">MET-4 - 325nt</tspan><tspan x="505" dy="24.13">MET-5 - 155nt</tspan><tspan x="505" dy="24.13">MET-6 - 310nt</tspan><tspan x="505" dy="24.13">MET-7 - 176nt</tspan><tspan x="505" dy="24.13">MET-8 - 289nt</tspan><tspan x="505" dy="24.13">MET-9 - 475nt</tspan><tspan x="505" dy="24.13">MET-10 - 218nt</tspan><tspan x="505" dy="24.13">MET-11 - 189nt</tspan><tspan x="505" dy="24.13">MET-12 - 346nt</tspan><tspan x="505" dy="24.13">MET-13 - 255nt</tspan><tspan x="505" dy="24.13">MET-14 - 203nt</tspan><tspan x="505" dy="24.13">MET-15 - 332nt</tspan><tspan x="505" dy="24.13">MET-16 - 275nt</tspan><tspan x="505" dy="24.13">MET-17 - 162nt</tspan><tspan x="505" dy="24.13">MET-18 - 249nt</tspan><tspan x="505" dy="24.13">MET-19 - 236nt</tspan><tspan x="505" dy="24.13">MET-20 - 409nt</tspan><tspan x="505" dy="24.13">MET-21 - 148nt</tspan><tspan x="505" dy="24.13">MET-21 - 303nt</tspan><tspan x="505" dy="24.13">CFTR-1 - 241nt</tspan><tspan x="505" dy="24.13">PTEN-2 - 197nt</tspan><tspan x="505" dy="24.13">PTEN-3 - 355nt</tspan><tspan x="505" dy="24.13">PTEN-5 - 373nt</tspan><tspan x="505" dy="24.13">PTEN-9 - 444nt</tspan><tspan x="505" dy="24.13">LRRK2-1 - 382nt</tspan><tspan x="505" dy="24.13">LRRK2-10 - 436nt</tspan><tspan x="505" dy="24.13">LRRK2-15 - 463nt</tspan><tspan x="505" dy="24.13">LRRK2-41 - 224nt</tspan><tspan x="505" dy="24.13">KCNT2 - 261nt</tspan><tspan x="505" dy="24.13">TPO - 139nt</tspan><tspan x="505" dy="24.13">EDAR - 454nt</tspan><tspan x="505" dy="24.13">SCN1A - 211nt</tspan><tspan x="505" dy="24.13">IL4 - 130nt</tspan><tspan x="505" dy="24.13">PKHD1 - 294nt</tspan><tspan x="505" dy="24.13">LAMA2 - 363nt</tspan><tspan x="505" dy="24.13">PCSK5 - 182nt</tspan><tspan x="505" dy="24.13">SMPD1 - 483nt</tspan><tspan x="505" dy="24.13">RBM14 - 400nt</tspan><tspan x="505" dy="24.13">VWF - 338nt</tspan><tspan x="505" dy="24.13">SPG11 - 493nt</tspan><tspan x="505" dy="24.13">MYO5B - 318nt</tspan><tspan x="505" dy="24.13">CACNA1A - 229nt</tspan></text>
<text transform="translate(410,1114) rotate(90)" font-size="64" font-weight="bold" font-family="Liberation Sans" textLength="61" lengthAdjust="spacingAndGlyphs" fill="#111">#6</text>
</g>

<!-- PANEL 3 : #5 -->
<g transform="translate(1571,0)">
<use href="#base"/>
<use href="#yc" x="291" y="153.2"/>
<text x="295" y="37" text-anchor="middle" font-weight="bold" font-size="14" font-family="Liberation Sans" fill="#333">Ratio</text>
<g class="tk"><text transform="translate(-4.5,56) rotate(90)">0</text><text transform="translate(57.25,56) rotate(90)">0,5</text><text transform="translate(119,56) rotate(90)">1</text><text transform="translate(180.75,56) rotate(90)">1,5</text><text transform="translate(242.5,56) rotate(90)">2</text><text transform="translate(304.25,56) rotate(90)">2,5</text><text transform="translate(366,56) rotate(90)">3</text><text transform="translate(427.75,56) rotate(90)">3,5</text><text transform="translate(489.5,56) rotate(90)">4</text><text transform="translate(551.25,56) rotate(90)">4,5</text></g>
<use href="#dk" x="123.5" y="129.1"/><use href="#dk" x="126" y="201.5"/><use href="#dk" x="122.3" y="225.6"/><use href="#dk" x="126" y="249.7"/><use href="#dk" x="126" y="273.9"/>
<use href="#yx" x="123.5" y="298.0"/><use href="#yx" x="123.5" y="322.1"/><use href="#yx" x="123.5" y="346.2"/><use href="#yx" x="123.5" y="370.4"/><use href="#yx" x="123.5" y="394.5"/><use href="#yx" x="123.5" y="418.6"/><use href="#yx" x="123.5" y="442.8"/><use href="#yx" x="123.5" y="466.9"/><use href="#yx" x="123.5" y="491.0"/><use href="#yx" x="123.5" y="515.2"/><use href="#yx" x="123.5" y="539.3"/><use href="#yx" x="123.5" y="563.4"/><use href="#yx" x="123.5" y="587.5"/><use href="#yx" x="123.5" y="611.7"/><use href="#yx" x="123.5" y="635.8"/><use href="#yx" x="123.5" y="659.9"/><use href="#yx" x="123.5" y="684.1"/><use href="#yx" x="123.5" y="708.2"/>
<use href="#db" x="180.3" y="298.0"/><use href="#db" x="172.9" y="322.1"/><use href="#db" x="184" y="346.2"/><use href="#db" x="177.8" y="370.4"/><use href="#db" x="176.6" y="394.5"/><use href="#db" x="179.1" y="418.6"/><use href="#db" x="176.6" y="442.8"/><use href="#db" x="171.7" y="466.9"/><use href="#db" x="177.8" y="491.0"/><use href="#db" x="177.8" y="515.2"/><use href="#db" x="170.4" y="539.3"/><use href="#db" x="180.3" y="563.4"/><use href="#db" x="184" y="587.5"/><use href="#db" x="180.3" y="611.7"/><use href="#db" x="172.9" y="635.8"/><use href="#db" x="180.3" y="659.9"/><use href="#db" x="179.1" y="684.1"/><use href="#db" x="182.8" y="708.2"/>
<use href="#dk" x="123.5" y="732.3"/><use href="#dk" x="124.7" y="756.5"/><use href="#dk" x="123.5" y="780.6"/><use href="#dk" x="122.3" y="804.7"/><use href="#dk" x="121" y="828.8"/><use href="#dk" x="119.8" y="853.0"/><use href="#dk" x="121" y="877.1"/><use href="#dk" x="118.6" y="901.2"/><use href="#dk" x="124.7" y="925.4"/>
<use href="#dk" x="122.3" y="949.5"/><use href="#dk" x="124.7" y="973.6"/><use href="#dk" x="121" y="997.8"/><use href="#dk" x="128.4" y="1021.9"/><use href="#dk" x="127.2" y="1046.0"/><use href="#dk" x="124.7" y="1070.1"/><use href="#dk" x="118.6" y="1094.3"/><use href="#dk" x="122.3" y="1118.4"/><use href="#dk" x="127.2" y="1142.5"/><use href="#dk" x="122.3" y="1166.7"/><use href="#dk" x="144.5" y="1190.8"/><use href="#dk" x="123.5" y="1214.9"/><use href="#dk" x="121" y="1239.1"/><use href="#dk" x="122.3" y="1263.2"/>
<text class="ll"><tspan x="-12" y="133.6">07-050,411810</tspan><tspan x="-12" dy="24.13">07-115,927630</tspan><tspan x="-12" dy="24.13">07-116,099840</tspan><tspan x="-12" dy="24.13">07-116,126410</tspan><tspan x="-12" dy="24.13">07-116,126920</tspan><tspan x="-12" dy="24.13">07-116,159040</tspan><tspan x="-12" dy="24.13">07-116,167260</tspan><tspan x="-12" dy="24.13">07-116,168230</tspan><tspan x="-12" dy="24.13">07-116,182670</tspan><tspan x="-12" dy="24.13">07-116,184730</tspan><tspan x="-12" dy="24.13">07-116,184930</tspan><tspan x="-12" dy="24.13">07-116,185840</tspan><tspan x="-12" dy="24.13">07-116,186680</tspan><tspan x="-12" dy="24.13">07-116,190350</tspan><tspan x="-12" dy="24.13">07-116,197020</tspan><tspan x="-12" dy="24.13">07-116,198870</tspan><tspan x="-12" dy="24.13">07-116,199210</tspan><tspan x="-12" dy="24.13">07-116,202290</tspan><tspan x="-12" dy="24.13">07-116,204710</tspan><tspan x="-12" dy="24.13">07-116,206100</tspan><tspan x="-12" dy="24.13">07-116,209350</tspan><tspan x="-12" dy="24.13">07-116,210690</tspan><tspan x="-12" dy="24.13">07-116,222920</tspan><tspan x="-12" dy="24.13">07-116,223380</tspan><tspan x="-12" dy="24.13">07-116,225070</tspan><tspan x="-12" dy="24.13">07-116,907280</tspan><tspan x="-12" dy="24.13">10-089,644030</tspan><tspan x="-12" dy="24.13">10-089,675070</tspan><tspan x="-12" dy="24.13">10-089,682870</tspan><tspan x="-12" dy="24.13">10-089,714990</tspan><tspan x="-12" dy="24.13">12-038,905270</tspan><tspan x="-12" dy="24.13">12-038,931550</tspan><tspan x="-12" dy="24.13">12-038,954750</tspan><tspan x="-12" dy="24.13">12-039,020370</tspan><tspan x="-12" dy="24.13">01-194,725580</tspan><tspan x="-12" dy="24.13">02-001,396390</tspan><tspan x="-12" dy="24.13">02-108,879670</tspan><tspan x="-12" dy="24.13">02-166,607120</tspan><tspan x="-12" dy="24.13">05-132,037630</tspan><tspan x="-12" dy="24.13">06-052,028260</tspan><tspan x="-12" dy="24.13">06-129,461180</tspan><tspan x="-12" dy="24.13">09-078,101420</tspan><tspan x="-12" dy="24.13">11-006,369220</tspan><tspan x="-12" dy="24.13">11-066,150480</tspan><tspan x="-12" dy="24.13">12-006,102530</tspan><tspan x="-12" dy="24.13">15-042,705900</tspan><tspan x="-12" dy="24.13">18-045,644660</tspan><tspan x="-12" dy="24.13">19-013,424710</tspan></text>
<text class="rl"><tspan x="505" y="133.6">IKZF1-4 - 268nt</tspan><tspan x="505" dy="24.13">CAV2-2 - 427nt</tspan><tspan x="505" dy="24.13">MET-1 - 393nt</tspan><tspan x="505" dy="24.13">MET-2 - 168nt</tspan><tspan x="505" dy="24.13">MET-2 - 417nt</tspan><tspan x="505" dy="24.13">MET-3 - 283nt</tspan><tspan x="505" dy="24.13">MET-4 - 325nt</tspan><tspan x="505" dy="24.13">MET-5 - 155nt</tspan><tspan x="505" dy="24.13">MET-6 - 310nt</tspan><tspan x="505" dy="24.13">MET-7 - 176nt</tspan><tspan x="505" dy="24.13">MET-8 - 289nt</tspan><tspan x="505" dy="24.13">MET-9 - 475nt</tspan><tspan x="505" dy="24.13">MET-10 - 218nt</tspan><tspan x="505" dy="24.13">MET-11 - 189nt</tspan><tspan x="505" dy="24.13">MET-12 - 346nt</tspan><tspan x="505" dy="24.13">MET-13 - 255nt</tspan><tspan x="505" dy="24.13">MET-14 - 203nt</tspan><tspan x="505" dy="24.13">MET-15 - 332nt</tspan><tspan x="505" dy="24.13">MET-16 - 275nt</tspan><tspan x="505" dy="24.13">MET-17 - 162nt</tspan><tspan x="505" dy="24.13">MET-18 - 249nt</tspan><tspan x="505" dy="24.13">MET-19 - 236nt</tspan><tspan x="505" dy="24.13">MET-20 - 409nt</tspan><tspan x="505" dy="24.13">MET-21 - 148nt</tspan><tspan x="505" dy="24.13">MET-21 - 303nt</tspan><tspan x="505" dy="24.13">CFTR-1 - 241nt</tspan><tspan x="505" dy="24.13">PTEN-2 - 197nt</tspan><tspan x="505" dy="24.13">PTEN-3 - 355nt</tspan><tspan x="505" dy="24.13">PTEN-5 - 373nt</tspan><tspan x="505" dy="24.13">PTEN-9 - 444nt</tspan><tspan x="505" dy="24.13">LRRK2-1 - 382nt</tspan><tspan x="505" dy="24.13">LRRK2-10 - 436nt</tspan><tspan x="505" dy="24.13">LRRK2-15 - 463nt</tspan><tspan x="505" dy="24.13">LRRK2-41 - 224nt</tspan><tspan x="505" dy="24.13">KCNT2 - 261nt</tspan><tspan x="505" dy="24.13">TPO - 139nt</tspan><tspan x="505" dy="24.13">EDAR - 454nt</tspan><tspan x="505" dy="24.13">SCN1A - 211nt</tspan><tspan x="505" dy="24.13">IL4 - 130nt</tspan><tspan x="505" dy="24.13">PKHD1 - 294nt</tspan><tspan x="505" dy="24.13">LAMA2 - 363nt</tspan><tspan x="505" dy="24.13">PCSK5 - 182nt</tspan><tspan x="505" dy="24.13">SMPD1 - 483nt</tspan><tspan x="505" dy="24.13">RBM14 - 400nt</tspan><tspan x="505" dy="24.13">VWF - 338nt</tspan><tspan x="505" dy="24.13">SPG11 - 493nt</tspan><tspan x="505" dy="24.13">MYO5B - 318nt</tspan><tspan x="505" dy="24.13">CACNA1A - 229nt</tspan></text>
<text transform="translate(417,1114) rotate(90)" font-size="64" font-weight="bold" font-family="Liberation Sans" textLength="61" lengthAdjust="spacingAndGlyphs" fill="#111">#5</text>
</g>
</svg>
</body></html>
